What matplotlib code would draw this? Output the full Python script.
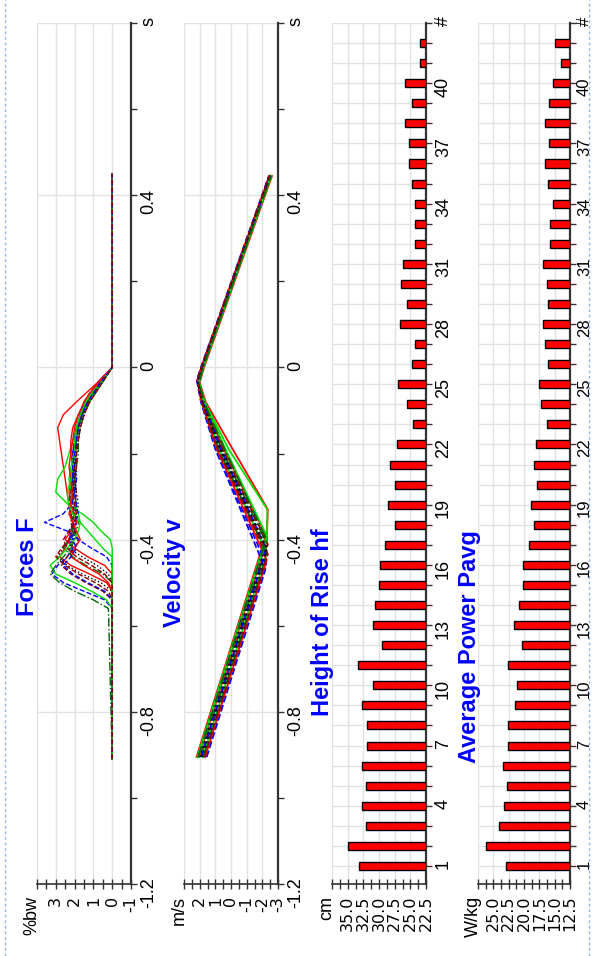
import matplotlib.pyplot as plt
from matplotlib.lines import Line2D
import numpy as np

plt.rcParams['font.family'] = ['Liberation Sans', 'DejaVu Sans']

# ---- data ----
trial_no = list(range(1, 43))

height_cm = [33.2, 35.0, 32.1, 32.7, 32.1, 32.7, 31.9, 31.9, 32.7, 31.0,
             33.3, 29.6, 31.0, 30.6, 30.0, 29.8, 29.1, 27.4, 28.5, 27.5,
             28.2, 27.1, 24.6, 25.6, 26.9, 24.8, 24.3, 26.7, 25.6, 26.5,
             26.2, 24.3, 24.3, 24.3, 24.7, 25.2, 25.2, 25.8, 24.8, 25.8,
             23.4, 23.4]

power_wkg = [22.9, 26.2, 24.1, 23.3, 22.8, 23.5, 22.6, 22.6, 21.4, 21.1,
             22.6, 20.3, 21.6, 20.8, 20.1, 20.1, 19.2, 18.4, 18.9, 17.8,
             18.4, 18.0, 16.3, 17.2, 17.6, 16.1, 16.5, 16.9, 16.1, 16.3,
             16.9, 15.7, 15.8, 15.2, 16.1, 16.5, 15.9, 16.5, 15.9, 15.2,
             14.0, 14.9]

force_times = [-0.91, -0.56, -0.54, -0.52, -0.50, -0.48, -0.46, -0.44, -0.42,
               -0.40, -0.38, -0.36, -0.34, -0.32, -0.29, -0.26, -0.23, -0.20,
               -0.17, -0.14, -0.11, -0.08, -0.06, -0.04, -0.02, 0.0, 0.45]

force_trials = [
    [0, 0, 0, 0, 0.3, 1.2, 2.2, 2.8, 2.5, 2.3, 2.2, 2.1, 2.2, 2.3, 2.4, 2.5, 2.6, 2.7, 2.8, 2.9, 2.6, 1.9, 1.4, 0.9, 0.45, 0, 0],
    [0, 0, 0, 0, 0, 0, 0, 0, 0, 0.1, 0.6, 1.0, 1.6, 2.3, 3.0, 2.9, 2.5, 2.3, 2.1, 1.9, 1.6, 1.2, 0.9, 0.6, 0.3, 0, 0],
    [0, 0, 0.4, 1.5, 2.6, 3.2, 2.9, 2.4, 2.1, 2.3, 2.0, 1.9, 2.0, 2.1, 2.2, 2.1, 2.0, 2.0, 1.9, 1.8, 1.6, 1.4, 1.1, 0.8, 0.4, 0, 0],
    [0, 0, 0, 0.5, 1.4, 2.2, 2.7, 2.4, 2.0, 1.8, 2.0, 2.2, 2.1, 2.0, 1.9, 2.0, 2.1, 2.1, 2.0, 1.9, 1.7, 1.4, 1.1, 0.75, 0.4, 0, 0],
    [0, 0, 0, 0, 0.6, 1.6, 2.4, 2.9, 2.6, 2.2, 2.0, 2.1, 2.2, 2.1, 2.0, 1.9, 1.9, 2.0, 2.0, 1.9, 1.7, 1.3, 1.0, 0.7, 0.35, 0, 0],
    [0, 0, 0, 0, 0, 0.5, 1.4, 2.1, 2.6, 2.3, 1.9, 1.8, 1.9, 2.0, 2.1, 2.0, 1.9, 1.8, 1.8, 1.7, 1.5, 1.2, 0.9, 0.6, 0.3, 0, 0],
    [0, 0, 0, 0, 0, 0, 0.4, 1.3, 2.0, 2.5, 2.2, 1.9, 2.0, 2.2, 2.3, 2.2, 2.1, 2.2, 2.2, 2.1, 1.8, 1.4, 1.1, 0.8, 0.4, 0, 0],
    [0, 0, 0.3, 1.1, 2.0, 3.0, 3.3, 2.8, 2.4, 2.0, 1.8, 1.7, 1.8, 2.0, 2.2, 2.3, 2.2, 2.0, 1.9, 1.8, 1.6, 1.3, 1.0, 0.65, 0.3, 0, 0],
    [0, 0, 0, 0, 0, 0, 0, 0.3, 1.1, 1.8, 2.4, 3.6, 2.6, 2.2, 2.0, 1.9, 2.0, 2.1, 2.0, 1.9, 1.7, 1.5, 1.2, 0.85, 0.45, 0, 0],
    [0, 0, 0, 0.2, 0.9, 1.8, 2.5, 3.0, 2.7, 2.3, 2.1, 2.0, 2.1, 2.3, 2.2, 2.1, 2.0, 1.9, 1.9, 1.8, 1.6, 1.3, 1.0, 0.7, 0.35, 0, 0],
    [0, 0, 0, 0, 0, 0.2, 0.8, 1.6, 2.3, 2.1, 1.9, 2.0, 1.9, 1.8, 1.9, 2.0, 2.0, 1.9, 1.8, 1.7, 1.5, 1.2, 0.9, 0.6, 0.3, 0, 0],
    [0, 0.2, 1.0, 2.0, 2.8, 3.3, 3.0, 2.6, 2.2, 2.0, 2.1, 2.2, 2.0, 1.9, 2.0, 2.1, 2.1, 2.0, 1.9, 1.8, 1.6, 1.3, 1.0, 0.7, 0.35, 0, 0],
    [0, 0, 0, 0, 0.2, 0.7, 1.5, 2.2, 2.0, 1.7, 1.9, 2.1, 2.3, 2.2, 2.1, 2.2, 2.3, 2.2, 2.1, 2.0, 1.8, 1.5, 1.2, 0.85, 0.45, 0, 0],
    [0, 0, 0, 0, 0, 0, 0, 0, 0.5, 0.9, 1.3, 1.7, 2.1, 2.3, 2.4, 2.2, 2.1, 2.0, 2.0, 1.9, 1.7, 1.4, 1.1, 0.7, 0.35, 0, 0],
    [0, 0, 0, 0.4, 1.3, 2.1, 2.6, 2.2, 1.9, 2.1, 2.3, 2.0, 1.8, 1.9, 2.0, 2.1, 2.1, 2.0, 1.9, 1.8, 1.6, 1.3, 1.0, 0.7, 0.35, 0, 0],
    [0, 0, 0, 0, 0, 0.4, 1.1, 1.9, 2.4, 2.6, 2.3, 2.0, 1.9, 2.0, 2.1, 2.0, 1.9, 1.9, 1.8, 1.7, 1.5, 1.2, 0.9, 0.6, 0.3, 0, 0],
]

# (time, velocity) breakpoints of each trial
velocity_trials = [
    [(-0.905, 2.20), (-0.382, -2.30), (-0.330, -2.35), (-0.180, 0.05), (-0.080, 1.62), (-0.035, 2.00), (0.0, 1.72), (0.445, -2.62)],
    [(-0.905, 2.15), (-0.388, -2.30), (-0.330, -2.32), (-0.190, 0.15), (-0.080, 1.68), (-0.035, 2.04), (0.0, 1.76), (0.445, -2.58)],
    [(-0.905, 1.55), (-0.469, -2.20), (-0.190, 1.00), (-0.080, 1.92), (-0.030, 2.18), (0.0, 1.92), (0.445, -2.42)],
    [(-0.905, 1.70), (-0.440, -2.30), (-0.190, 0.85), (-0.080, 1.86), (-0.030, 2.14), (0.0, 1.88), (0.445, -2.46)],
    [(-0.905, 1.85), (-0.428, -2.25), (-0.190, 0.70), (-0.080, 1.82), (-0.035, 2.10), (0.0, 1.84), (0.445, -2.50)],
    [(-0.905, 1.95), (-0.411, -2.30), (-0.190, 0.60), (-0.080, 1.78), (-0.035, 2.08), (0.0, 1.82), (0.445, -2.52)],
    [(-0.905, 2.05), (-0.397, -2.32), (-0.190, 0.45), (-0.080, 1.74), (-0.035, 2.05), (0.0, 1.78), (0.445, -2.55)],
    [(-0.905, 1.80), (-0.431, -2.28), (-0.190, 0.75), (-0.080, 1.84), (-0.030, 2.12), (0.0, 1.86), (0.445, -2.48)],
    [(-0.905, 1.60), (-0.457, -2.25), (-0.190, 0.95), (-0.080, 1.90), (-0.030, 2.16), (0.0, 1.90), (0.445, -2.44)],
    [(-0.905, 1.90), (-0.411, -2.35), (-0.190, 0.55), (-0.080, 1.76), (-0.035, 2.06), (0.0, 1.80), (0.445, -2.54)],
    [(-0.905, 2.00), (-0.417, -2.20), (-0.190, 0.60), (-0.080, 1.80), (-0.035, 2.10), (0.0, 1.84), (0.445, -2.50)],
    [(-0.905, 1.75), (-0.434, -2.30), (-0.190, 0.80), (-0.080, 1.85), (-0.030, 2.13), (0.0, 1.87), (0.445, -2.47)],
    [(-0.905, 1.65), (-0.448, -2.28), (-0.190, 0.90), (-0.080, 1.88), (-0.030, 2.15), (0.0, 1.89), (0.445, -2.45)],
    [(-0.905, 2.10), (-0.393, -2.30), (-0.190, 0.35), (-0.080, 1.72), (-0.035, 2.04), (0.0, 1.78), (0.445, -2.56)],
    [(-0.905, 1.90), (-0.422, -2.25), (-0.190, 0.65), (-0.080, 1.80), (-0.035, 2.09), (0.0, 1.83), (0.445, -2.51)],
    [(-0.905, 1.70), (-0.434, -2.35), (-0.190, 0.85), (-0.080, 1.86), (-0.030, 2.14), (0.0, 1.88), (0.445, -2.46)],
    [(-0.905, 1.85), (-0.422, -2.30), (-0.190, 0.70), (-0.080, 1.82), (-0.035, 2.11), (0.0, 1.85), (0.445, -2.49)],
    [(-0.905, 2.10), (-0.399, -2.25), (-0.190, 0.40), (-0.080, 1.73), (-0.035, 2.05), (0.0, 1.79), (0.445, -2.55)],
]

line_colors = ['red', '#00dd00', 'blue', '#8b0000', 'black', '#006400']
line_styles = ['-', '-', '--', '--', ':', '-.']

time_ticks = [-1.2, -0.8, -0.4, 0.0, 0.4, 0.8]
time_labels = ['-1.2', '-0.8', '-0.4', '0', '0.4', 's']

RIGHT_FS = 13
BOTTOM_FS = 11.5
TITLE_FS = 17
GRID = '#e2e2e2'
SPINE = '#333333'

fig = plt.figure(figsize=(5.96, 9.56), dpi=100)

W, H = 596.0, 956.0
def panel(left_px, right_px):
    return fig.add_axes([left_px / W, (H - 884) / H, (right_px - left_px) / W, 861 / H])

ax_f = panel(37, 131)
ax_v = panel(184, 278)
ax_h = panel(332, 426)
ax_p = panel(478, 570)


def style(ax, xlim, xmajor, xlabels, xminor, unit, right_fs=RIGHT_FS, right_pad=2.5):
    ax.set_xlim(*xlim)
    ax.spines['top'].set_visible(False)
    ax.spines['left'].set_visible(False)
    ax.spines['right'].set_color(SPINE)
    ax.spines['right'].set_linewidth(1.6)
    ax.spines['bottom'].set_color(SPINE)
    ax.spines['bottom'].set_linewidth(1.2)
    ax.yaxis.tick_right()
    ax.set_xticks(xmajor)
    ax.set_xticklabels(xlabels, rotation=90, fontfamily='DejaVu Sans')
    ax.set_xticks(xminor, minor=True)
    ax.tick_params(axis='x', which='both', direction='inout', length=7,
                   width=1, color=SPINE, labelsize=BOTTOM_FS, pad=5)
    ax.tick_params(axis='y', which='both', direction='out', length=4,
                   width=1, color=SPINE, labelsize=right_fs, pad=right_pad)
    for lab in ax.get_yticklabels():
        lab.set_rotation(90)
    ax.grid(True, which='major', color=GRID, lw=1)
    ax.set_axisbelow(True)
    ax.annotate(unit, xy=(0, 0), xycoords='axes fraction', xytext=(-5, -12),
                textcoords='offset pixels', rotation=90, ha='center', va='top',
                fontsize=RIGHT_FS)


def style_time(ax):
    ax.set_ylim(-1.2, 0.8)
    ax.set_yticks(time_ticks)
    ax.set_yticklabels(time_labels)
    ax.set_yticks([-1.0, -0.6, -0.2, 0.2, 0.6], minor=True)


def style_bars(ax):
    ax.set_ylim(0.1, 43)
    ax.set_yticks(range(1, 44))
    ax.set_yticklabels([str(n) if (n - 1) % 3 == 0 and n <= 40 else ('#' if n == 43 else '')
                        for n in range(1, 44)])


def title(ax, x, y, text):
    ax.text(x, y, text, transform=ax.transAxes, rotation=90, ha='center',
            va='center', color='blue', fontsize=TITLE_FS, fontweight='bold')


# ---- forces ----
for i, vals in enumerate(force_trials):
    ax_f.plot(vals, force_times, color=line_colors[i % 6], ls=line_styles[i % 6], lw=1.0)
style(ax_f, (4, -1), [4, 3, 2, 1, 0, -1], ['', '3', '2', '1', '0', '-1'],
      np.arange(-1, 4.01, 0.5), '%bw')
style_time(ax_f)
title(ax_f, -0.096, 0.369, 'Forces F')

# ---- velocity ----
for i, trial in enumerate(velocity_trials):
    ts, vs = zip(*trial)
    ax_v.plot(vs, ts, color=line_colors[i % 6], ls=line_styles[i % 6], lw=1.3)
style(ax_v, (3, -3), [3, 2, 1, 0, -1, -2, -3], ['', '2', '1', '0', '-1', '-2', '-3'],
      np.arange(-3, 3.01, 0.5), 'm/s')
style_time(ax_v)
title(ax_v, -0.096, 0.362, 'Velocity v')

# ---- height of rise ----
hb = 22.5
ax_h.barh(trial_no, np.array(height_cm) - hb, left=hb, height=0.4,
          color='red', edgecolor='black', lw=1, zorder=3)
style(ax_h, (37.5, 22.5), [37.5, 35, 32.5, 30, 27.5, 25, 22.5],
      ['', '35.0', '32.5', '30.0', '27.5', '25.0', '22.5'],
      np.arange(22.5, 37.51, 1.25), 'cm')
style_bars(ax_h)
title(ax_h, -0.106, 0.304, 'Height of Rise hf')

# ---- average power ----
pb = 12.5
ax_p.barh(trial_no, np.array(power_wkg) - pb, left=pb, height=0.4,
          color='red', edgecolor='black', lw=1, zorder=3)
style(ax_p, (27.5, 12.5), [27.5, 25, 22.5, 20, 17.5, 15, 12.5],
      ['', '25.0', '22.5', '20.0', '17.5', '15.0', '12.5'],
      np.arange(12.5, 27.51, 1.25), 'W/kg', right_fs=12, right_pad=1)
style_bars(ax_p)
title(ax_p, -0.097, 0.276, 'Average Power Pavg')

# page margin marks
for xf in (5 / W, 589 / W):
    fig.add_artist(Line2D([xf, xf], [0, 1], transform=fig.transFigure,
                          color='#8fb4e8', ls=(0, (2, 2)), lw=1))

fig.savefig('out.png', dpi=100)
